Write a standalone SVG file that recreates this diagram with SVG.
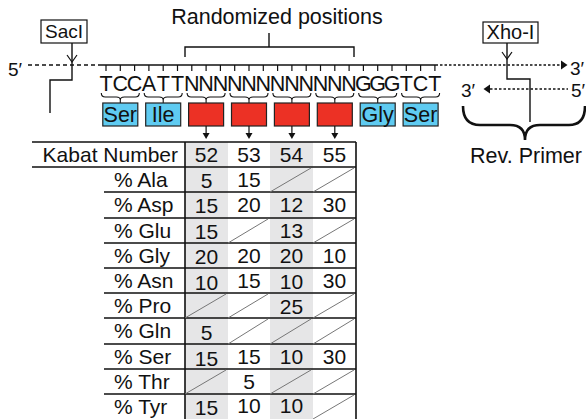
<svg xmlns="http://www.w3.org/2000/svg" width="586" height="419" viewBox="0 0 586 419">
<style>
text{font-family:"Liberation Sans",Arial,sans-serif;fill:#111;}
.ln{stroke:#111;stroke-width:1.4;fill:none;}
.tk{stroke:#111;stroke-width:1.2;fill:none;}
.br{stroke:#111;stroke-width:1.1;fill:none;}
.dash{stroke:#111;stroke-width:1.3;stroke-dasharray:4 3;fill:none;}
.dot{stroke:#111;stroke-width:1.3;stroke-dasharray:2.5 2;fill:none;}
.blue{fill:#5fcbf1;stroke:#222;stroke-width:1.2;}
.red{fill:#ec3125;stroke:#222;stroke-width:1.2;}
.shade{fill:#e6e6e7;}
.tl{stroke:#111;stroke-width:1.6;fill:none;}
.sl{stroke:#777;stroke-width:1;fill:none;}
.lbl{font-size:21px;}
.num{font-size:21px;text-anchor:middle;}
.seq{font-size:21.5px;text-anchor:middle;}
.aa{font-size:21.5px;text-anchor:middle;}
</style>

<g id="title">
<text x="277" y="24" font-size="21.5" text-anchor="middle">Randomized positions</text>
<path class="ln" d="M185,57 V47 H354 V57 M269,47 V33"/>
</g>

<g id="sacI">
<rect x="41" y="20" width="46" height="23" fill="#fff" stroke="#111" stroke-width="1.2"/>
<text x="64" y="38" font-size="19" text-anchor="middle">SacI</text>
</g>

<g id="xhoI">
<rect x="483" y="22" width="55" height="21" fill="#fff" stroke="#111" stroke-width="1.2"/>
<text x="510.5" y="39" font-size="20" text-anchor="middle">Xho-I</text>
</g>

<g id="strands">
<text x="8" y="76" font-size="19">5′</text>
<line class="dash" x1="28" y1="65" x2="100" y2="65"/>
<line class="ln" x1="100" y1="65" x2="438" y2="65"/>
<line class="dot" x1="440" y1="65" x2="562" y2="65"/>
<polygon points="561,60.5 567.5,65 561,69.5" fill="#111"/>
<text x="570" y="75" font-size="19">3′</text>
<line class="dot" x1="490" y1="89" x2="568" y2="89"/>
<polygon points="490,84.5 483.5,89 490,93.5" fill="#111"/>
<text x="461" y="97" font-size="19">3′</text>
<text x="571" y="97" font-size="19">5′</text>
</g>

<g id="ticks">
<path class="tk" d="M106,65V71 M120.3,65V71 M134.6,65V71 M148.9,65V71 M163.2,65V71 M177.5,65V71 M191.8,65V71 M206.1,65V71 M220.4,65V71 M234.7,65V71 M249,65V71 M263.3,65V71 M277.6,65V71 M291.9,65V71 M306.2,65V71 M320.5,65V71 M334.8,65V71 M349.1,65V71 M363.4,65V71 M377.7,65V71 M392,65V71 M406.3,65V71 M420.6,65V71 M434.9,65V71"/>
</g>

<g id="sequence">
<text class="seq" y="91" x="106 120.3 134.6 148.9 163.2 177.5 191.8 206.1 220.4 234.7 249 263.3 277.6 291.9 306.2 320.5 334.8 349.1 363.4 377.7 392 406.3 420.6 434.9">TCCATTNNNNNNNNNNNNGGGTCT</text>
</g>

<g id="braces">
<path class="br" d="M101.3,93 Q101.3,97 105.3,97 L116.3,97 Q120.3,97 120.3,100 Q120.3,97 124.3,97 L135.3,97 Q139.3,97 139.3,93 M120.3,100V103"/>
<path class="br" d="M144.2,93 Q144.2,97 148.2,97 L159.2,97 Q163.2,97 163.2,100 Q163.2,97 167.2,97 L178.2,97 Q182.2,97 182.2,93 M163.2,100V103"/>
<path class="br" d="M187.1,93 Q187.1,97 191.1,97 L202.1,97 Q206.1,97 206.1,100 Q206.1,97 210.1,97 L221.1,97 Q225.1,97 225.1,93 M206.1,100V103"/>
<path class="br" d="M230,93 Q230,97 234,97 L245,97 Q249,97 249,100 Q249,97 253,97 L264,97 Q268,97 268,93 M249,100V103"/>
<path class="br" d="M272.9,93 Q272.9,97 276.9,97 L287.9,97 Q291.9,97 291.9,100 Q291.9,97 295.9,97 L306.9,97 Q310.9,97 310.9,93 M291.9,100V103"/>
<path class="br" d="M315.8,93 Q315.8,97 319.8,97 L330.8,97 Q334.8,97 334.8,100 Q334.8,97 338.8,97 L349.8,97 Q353.8,97 353.8,93 M334.8,100V103"/>
<path class="br" d="M358.7,93 Q358.7,97 362.7,97 L373.7,97 Q377.7,97 377.7,100 Q377.7,97 381.7,97 L392.7,97 Q396.7,97 396.7,93 M377.7,100V103"/>
<path class="br" d="M401.6,93 Q401.6,97 405.6,97 L416.6,97 Q420.6,97 420.6,100 Q420.6,97 424.6,97 L435.6,97 Q439.6,97 439.6,93 M420.6,100V103"/>
</g>

<g id="aa-ser1"><rect class="blue" x="102.8" y="103" width="35" height="23"/><text class="aa" x="120.3" y="122">Ser</text></g>
<g id="aa-ile"><rect class="blue" x="145.7" y="103" width="35" height="23"/><text class="aa" x="163.2" y="122">Ile</text></g>
<g id="aa-r52"><rect class="red" x="188.6" y="103" width="35" height="23"/></g>
<g id="aa-r53"><rect class="red" x="231.5" y="103" width="35" height="23"/></g>
<g id="aa-r54"><rect class="red" x="274.4" y="103" width="35" height="23"/></g>
<g id="aa-r55"><rect class="red" x="317.3" y="103" width="35" height="23"/></g>
<g id="aa-gly"><rect class="blue" x="360.2" y="103" width="35" height="23"/><text class="aa" x="377.7" y="122">Gly</text></g>
<g id="aa-ser2"><rect class="blue" x="403.1" y="103" width="35" height="23"/><text class="aa" x="420.6" y="122">Ser</text></g>

<g id="connectors">
<path class="ln" d="M72,43 V80 H50 V113"/>
<path d="M67,55 L72,62 L77,55" class="tk"/>
<path class="ln" d="M507,43 V79 H530 V122"/>
<path d="M502,52 L507,59 L512,52" class="tk"/>
<path class="tk" d="M206.1,126V134 M249,126V134 M291.9,126V134 M334.8,126V134"/>
<polygon points="202.6,133 209.6,133 206.1,139" fill="#111"/>
<polygon points="245.5,133 252.5,133 249,139" fill="#111"/>
<polygon points="288.4,133 295.4,133 291.9,139" fill="#111"/>
<polygon points="331.3,133 338.3,133 334.8,139" fill="#111"/>
</g>

<g id="rev-primer">
<path d="M463,106 Q463,125 480,125 L510,125 Q525,125 525,140 Q525,125 540,125 L569,125 Q585,125 585,106" fill="none" stroke="#111" stroke-width="2.6"/>
<text x="526" y="163" font-size="21.5" text-anchor="middle">Rev. Primer</text>
</g>

<g id="table">
<rect class="shade" x="185" y="142" width="43" height="277"/>
<rect class="shade" x="270" y="142" width="43" height="277"/>
<path class="tl" d="M32,142 H356 M32,167 H356 M104,192 H356 M104,218 H356 M104,243 H356 M104,268 H356 M104,293 H356 M104,318 H356 M104,344 H356 M104,369 H356 M104,394 H356 M185,142 V419 M356,142 V419"/>
<g class="sl">
<path d="M270,192 L311,168 M313,192 L354,168"/>
<path d="M228,243 L268,219 M313,243 L354,219"/>
<path d="M185,318 L226,294 M228,318 L268,294 M313,318 L354,294"/>
<path d="M228,344 L268,319 M270,344 L311,319 M313,344 L354,319"/>
<path d="M185,394 L226,370 M270,394 L311,370 M313,394 L354,370"/>
<path d="M313,419 L354,395"/>
</g>
<text class="lbl" x="178" y="162" text-anchor="end">Kabat Number</text>
<text class="lbl" x="114" y="187">% Ala</text>
<text class="lbl" x="114" y="212">% Asp</text>
<text class="lbl" x="114" y="238">% Glu</text>
<text class="lbl" x="114" y="263">% Gly</text>
<text class="lbl" x="114" y="288">% Asn</text>
<text class="lbl" x="114" y="313">% Pro</text>
<text class="lbl" x="114" y="338">% Gln</text>
<text class="lbl" x="114" y="364">% Ser</text>
<text class="lbl" x="114" y="389">% Thr</text>
<text class="lbl" x="114" y="414">% Tyr</text>

<text class="num" x="206.5" y="162">52</text><text class="num" x="249" y="162">53</text><text class="num" x="291.5" y="162">54</text><text class="num" x="334.5" y="162">55</text>
<text class="num" x="206.5" y="188">5</text><text class="num" x="249" y="187">15</text>
<text class="num" x="206.5" y="213">15</text><text class="num" x="249" y="212">20</text><text class="num" x="291.5" y="212">12</text><text class="num" x="334.5" y="212">30</text>
<text class="num" x="206.5" y="239">15</text><text class="num" x="291.5" y="238">13</text>
<text class="num" x="206.5" y="264">20</text><text class="num" x="249" y="263">20</text><text class="num" x="291.5" y="263">20</text><text class="num" x="334.5" y="263">10</text>
<text class="num" x="206.5" y="290">10</text><text class="num" x="249" y="288">15</text><text class="num" x="291.5" y="289">10</text><text class="num" x="334.5" y="288">30</text>
<text class="num" x="291.5" y="314">25</text>
<text class="num" x="206.5" y="340">5</text>
<text class="num" x="206.5" y="366">15</text><text class="num" x="249" y="364">15</text><text class="num" x="291.5" y="364">10</text><text class="num" x="334.5" y="364">30</text>
<text class="num" x="249" y="389">5</text>
<text class="num" x="206.5" y="415">15</text><text class="num" x="249" y="413">10</text><text class="num" x="291.5" y="413">10</text>
</g>
</svg>
